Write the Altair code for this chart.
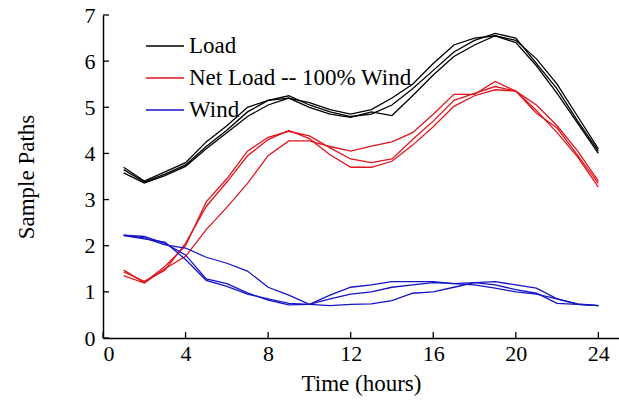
import altair as alt
import pandas as pd

hours = list(range(1, 25))

load_a = [3.70, 3.40, 3.60, 3.80, 4.25, 4.60, 5.00, 5.15, 5.20, 5.10, 4.95, 4.85, 4.95, 5.20, 5.50, 5.95, 6.35, 6.50, 6.55, 6.45, 6.05, 5.50, 4.80, 4.10]
load_b = [3.65, 3.38, 3.55, 3.75, 4.15, 4.50, 4.90, 5.15, 5.25, 5.05, 4.90, 4.80, 4.85, 5.05, 5.40, 5.80, 6.20, 6.45, 6.60, 6.50, 5.95, 5.40, 4.70, 4.05]
load_c = [3.58, 3.36, 3.52, 3.72, 4.10, 4.45, 4.80, 5.05, 5.20, 5.00, 4.85, 4.78, 4.90, 4.82, 5.25, 5.70, 6.10, 6.35, 6.55, 6.40, 5.90, 5.30, 4.65, 4.00]

net_a = [1.47, 1.20, 1.55, 2.00, 2.95, 3.45, 4.05, 4.35, 4.48, 4.38, 4.12, 3.88, 3.80, 3.88, 4.30, 4.70, 5.15, 5.30, 5.45, 5.35, 5.05, 4.60, 4.05, 3.40]
net_b = [1.43, 1.23, 1.47, 2.05, 2.85, 3.38, 3.95, 4.30, 4.50, 4.32, 3.97, 3.70, 3.70, 3.83, 4.18, 4.58, 5.02, 5.25, 5.38, 5.35, 4.87, 4.55, 3.96, 3.35]
net_c = [1.35, 1.19, 1.50, 1.77, 2.35, 2.83, 3.35, 3.95, 4.27, 4.27, 4.15, 4.05, 4.16, 4.25, 4.45, 4.85, 5.28, 5.28, 5.56, 5.35, 4.93, 4.45, 3.92, 3.27]

wind_a = [2.23, 2.20, 2.05, 1.80, 1.28, 1.18, 0.98, 0.82, 0.72, 0.73, 0.85, 0.95, 1.00, 1.10, 1.15, 1.20, 1.18, 1.15, 1.08, 1.00, 0.95, 0.85, 0.73, 0.70]
wind_b = [2.22, 2.15, 2.08, 1.70, 1.25, 1.12, 0.95, 0.85, 0.75, 0.73, 0.93, 1.10, 1.15, 1.22, 1.22, 1.22, 1.18, 1.20, 1.22, 1.15, 1.08, 0.85, 0.74, 0.70]
wind_c = [2.23, 2.17, 2.02, 1.95, 1.75, 1.62, 1.45, 1.10, 0.93, 0.73, 0.70, 0.73, 0.74, 0.81, 0.97, 1.00, 1.10, 1.20, 1.15, 1.05, 0.97, 0.75, 0.73, 0.70]

series_names = ["Load", "Net Load -- 100% Wind", "Wind"]
series_colors = ["#000000", "#e0141c", "#1414c8"]
x_ticks = [0, 4, 8, 12, 16, 20, 24]
y_ticks = [0, 1, 2, 3, 4, 5, 6, 7]

rows = []
for name, paths in zip(series_names, [[load_a, load_b, load_c], [net_a, net_b, net_c], [wind_a, wind_b, wind_c]]):
    for i, p in enumerate(paths):
        for h, v in zip(hours, p):
            rows.append({"hour": h, "value": v, "series": name, "path": f"{name}-{i}"})
df = pd.DataFrame(rows)

W, H = 516, 323
FONT = "Liberation Serif"

xscale = alt.Scale(domain=[0, 25], nice=False, zero=False)
yscale = alt.Scale(domain=[0, 7], nice=False)

axis_style = dict(
    ticks=False, grid=False, format="d",
    domainColor="#000000", domainWidth=1.5,
    labelFont=FONT, labelFontSize=22, labelColor="#000000",
    titleFont=FONT, titleFontSize=23, titleFontWeight="normal", titleColor="#000000",
)

lines = alt.Chart(df).mark_line(strokeWidth=1.3).encode(
    x=alt.X("hour:Q", scale=xscale,
            axis=alt.Axis(values=x_ticks, title="Time (hours)", labelPadding=5, titlePadding=8, **axis_style)),
    y=alt.Y("value:Q", scale=yscale,
            axis=alt.Axis(values=y_ticks, title="Sample Paths", labelPadding=8, titlePadding=46, **axis_style)),
    color=alt.Color("series:N", sort=series_names,
                    scale=alt.Scale(domain=series_names, range=series_colors),
                    legend=alt.Legend(orient="none", legendX=42, legendY=11, title=None,
                                      symbolType="stroke", symbolSize=1444, symbolStrokeWidth=1.6,
                                      labelFont=FONT, labelFontSize=23, labelColor="#000000",
                                      rowPadding=-5, labelOffset=4, padding=0, labelLimit=400)),
    detail="path:N",
)

xt = alt.Chart(pd.DataFrame({"hour": x_ticks})).mark_rule(color="#000000", strokeWidth=1.3).encode(
    x=alt.X("hour:Q", scale=xscale),
    y=alt.value(H), y2=alt.value(H - 6),
)
yt = alt.Chart(pd.DataFrame({"value": y_ticks})).mark_rule(color="#000000", strokeWidth=1.3).encode(
    y=alt.Y("value:Q", scale=yscale),
    x=alt.value(0), x2=alt.value(6),
)

chart = alt.layer(lines, xt, yt).properties(
    width=W, height=H,
    autosize=alt.AutoSizeParams(type="none"),
    padding={"left": 103, "top": 15, "right": 0, "bottom": 64},
    background="#ffffff",
).configure(font=FONT).configure_view(stroke=None)

chart.save("out.html", embed_options={"renderer": "svg", "actions": False})
